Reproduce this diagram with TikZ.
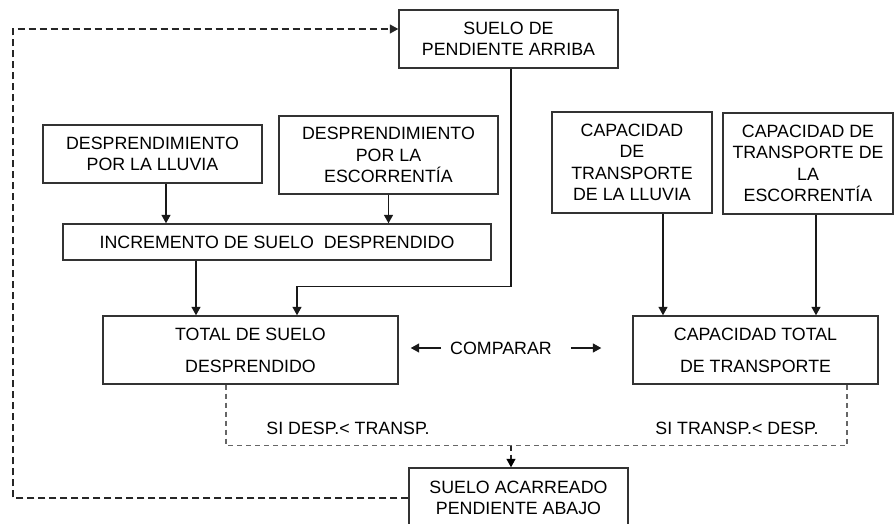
\documentclass[tikz,border=0pt]{standalone}
\usepackage{fontspec}
\setmainfont{Liberation Sans}
\usetikzlibrary{arrows.meta}
\begin{document}
\begin{tikzpicture}[x=1pt,y=-1pt,
  box/.style={draw=black!80, line width=1.4pt, align=center, inner sep=0pt,
    text=black, font=\fontsize{17.8}{21.5}\selectfont},
  wide/.style={font=\fontsize{17.8}{32}\selectfont},
  lbl/.style={inner sep=0pt, text=black, font=\fontsize{17.8}{21.5}\selectfont},
  tip/.style={-{Triangle[length=8.5pt,width=9pt]}},
  arr/.style={line width=1.4pt, black!90, tip},
  ln/.style={line width=1.4pt, black!90},
  gdash/.style={line width=1.3pt, black!60, dash pattern=on 5pt off 4pt},
  bdash/.style={line width=1.3pt, black!85, dash pattern=on 7pt off 4pt}]
\useasboundingbox (0,0) rectangle (894,524);
\clip (0,0) rectangle (894,524);
\fill[white] (0,0) rectangle (894,524);

\node[box, minimum width=219pt, minimum height=58pt] (arriba) at (508.5,39) {SUELO DE\\PENDIENTE ARRIBA};
\node[box, minimum width=219pt, minimum height=58pt] (dll) at (152.5,154) {DESPRENDIMIENTO\\POR LA LLUVIA};
\node[box, minimum width=219pt, minimum height=78pt] (desc) at (388.5,155) {DESPRENDIMIENTO\\POR LA\\ESCORRENTÍA};
\node[box, minimum width=428pt, minimum height=36pt] (inc) at (277,242) {INCREMENTO DE SUELO\ \ DESPRENDIDO};
\node[box, wide, minimum width=295pt, minimum height=68pt] (total) at (250.5,350) {TOTAL DE SUELO\\DESPRENDIDO};
\node[box, minimum width=160pt, minimum height=101pt] (capll) at (632,162.5) {CAPACIDAD\\DE\\TRANSPORTE\\DE LA LLUVIA};
\node[box, minimum width=170pt, minimum height=101pt] (capesc) at (808,163.5) {CAPACIDAD DE\\TRANSPORTE DE\\LA\\ESCORRENTÍA};
\node[box, wide, minimum width=245pt, minimum height=68pt] (captot) at (755.5,350) {CAPACIDAD TOTAL\\DE TRANSPORTE};
\node[box, minimum width=219pt, minimum height=60pt] (acarr) at (518.5,498) {SUELO ACARREADO\\PENDIENTE ABAJO};

\node[lbl] (comp) at (501,348) {COMPARAR};
\node[lbl] (sid) at (348,428) {SI DESP.< TRANSP.};
\node[lbl] (sit) at (737,428) {SI TRANSP.< DESP.};

% solid arrows
\draw[arr] ([xshift=13.5pt]dll.south) -- ([xshift=13.5pt]dll.south |- inc.north);
\draw[arr] (desc.south) -- (desc.south |- inc.north);
\draw[arr] ([xshift=-81pt]inc.south) -- ([xshift=-81pt]inc.south |- total.north);
\coordinate (a1) at ([xshift=2.5pt]arriba.south);
\coordinate (t1) at ([xshift=46.5pt]total.north);
\draw[ln] (a1) -- ++(0,218) coordinate (a2);
\draw[arr] (a2) -| (t1);
\draw[arr] ([xshift=31pt]capll.south) -- ([xshift=31pt]capll.south |- captot.north);
\draw[arr] ([xshift=8pt]capesc.south) -- ([xshift=8pt]capesc.south |- captot.north);

% comparar
\draw[arr] ([xshift=-9pt]comp.west) -- ([xshift=12pt]total.east |- comp.west);
\draw[arr] ([xshift=19pt]comp.east) -- ([xshift=-31pt]captot.west |- comp.east);

% dashed decision lines
\coordinate (d1) at ([xshift=-24.5pt]total.south);
\coordinate (d2) at ([xshift=91.5pt]captot.south);
\draw[gdash] (d1) -- ++(0,61) coordinate (d3) -- (d3 -| d2) -- (d2);
\draw[gdash, black!85, -{Triangle[length=8.5pt,width=9pt,color=black]}] ([xshift=-7.5pt]acarr.north |- d3) -- ([xshift=-7.5pt]acarr.north);

% feedback loop
\coordinate (l1) at (13,0);
\draw[bdash, tip] (acarr.west) -- (acarr.west -| l1) -- ([yshift=10pt]arriba.west -| l1) -- ([yshift=10pt]arriba.west);
\end{tikzpicture}
\end{document}
